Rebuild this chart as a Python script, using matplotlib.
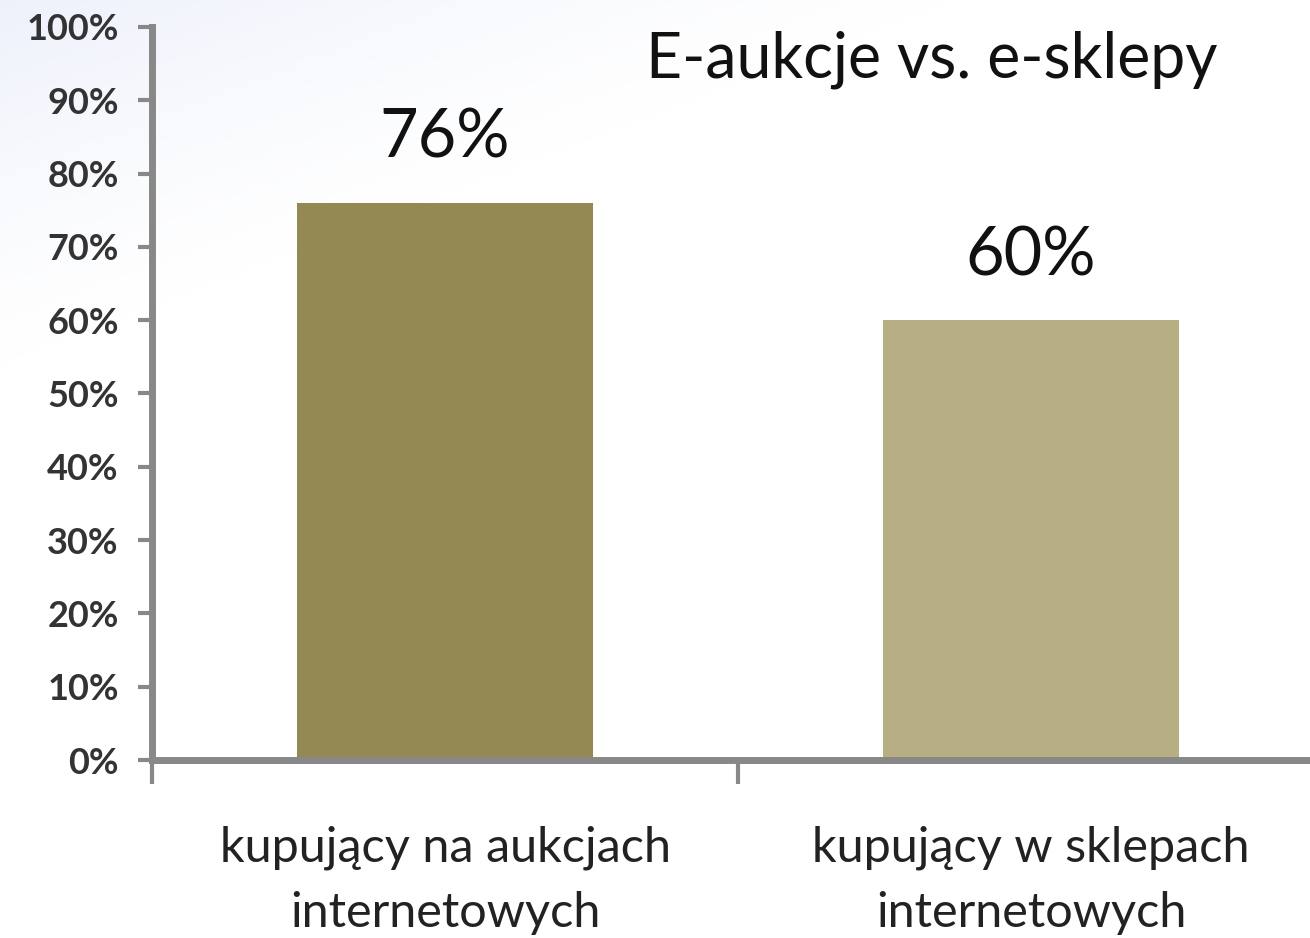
import numpy as np
import matplotlib
matplotlib.use("Agg")
import matplotlib.pyplot as plt

categories = ["kupujący na aukcjach\ninternetowych", "kupujący w sklepach\ninternetowych"]
values = [76, 60]
bar_labels = ["76%", "60%"]
yticks = [0, 10, 20, 30, 40, 50, 60, 70, 80, 90, 100]
ytick_labels = [f"{v}%" for v in yticks]
title = "E-aukcje vs. e-sklepy"
colors = ["#948952", "#b8ae83"]

W, H = 1310, 938
fig = plt.figure(figsize=(W / 100, H / 100), dpi=100)
fig.patch.set_facecolor("white")

# faint bluish gradient background in the top-left
bg = fig.add_axes([0, 0, 1, 1], zorder=-10)
yy, xx = np.mgrid[0:1:200j, 0:1:280j]
d = (xx * 1.6 + yy * 3.0)
a = np.clip(1 - d / 1.2, 0, 1) ** 1.3 * 0.35
img = np.zeros((200, 280, 4))
img[..., 0] = 0.80
img[..., 1] = 0.85
img[..., 2] = 0.95
img[..., 3] = a
bg.imshow(img, extent=[0, 1, 0, 1], aspect="auto", origin="upper")
bg.axis("off")

font = "Lato"
gray = "#888888"

ax = fig.add_axes([152 / W, 178 / H, (1324 - 152) / W, (911 - 178) / H])
ax.patch.set_alpha(0)
x = np.arange(len(categories))
ax.bar(x, values, width=0.505, color=colors, zorder=2)
ax.set_xlim(-0.5, len(categories) - 0.5)
ax.set_ylim(0, 100)
ax.set_yticks(yticks)
ax.set_yticklabels(ytick_labels, fontsize=26, fontfamily=font, fontweight="bold", color="#333333")
ax.set_xticks([-0.5, 0.5, 1.5])
ax.set_xticklabels(["", "", ""])
ax.set_xticks(x, minor=True)
ax.set_xticklabels(categories, minor=True, fontsize=35, fontfamily=font, color="#222222", linespacing=1.6)
ax.tick_params(axis="x", which="minor", length=0, pad=47)
ax.tick_params(axis="x", which="major", length=17, width=3, color=gray, direction="out")
ax.tick_params(axis="y", length=10, width=3, color=gray, direction="out", pad=14)
for s in ["top", "right"]:
    ax.spines[s].set_visible(False)
for s in ["left", "bottom"]:
    ax.spines[s].set_color(gray)
    ax.spines[s].set_linewidth(5)
for xi, v, lab in zip(x, values, bar_labels):
    ax.text(xi, v + 4.5, lab, ha="center", va="bottom", fontsize=48, fontfamily=font, color="#111111")

fig.text(932 / W, 1 - 60 / H, title, ha="center", va="center", fontsize=45, fontfamily=font, color="#111111")

fig.savefig("out.png", dpi=100)
